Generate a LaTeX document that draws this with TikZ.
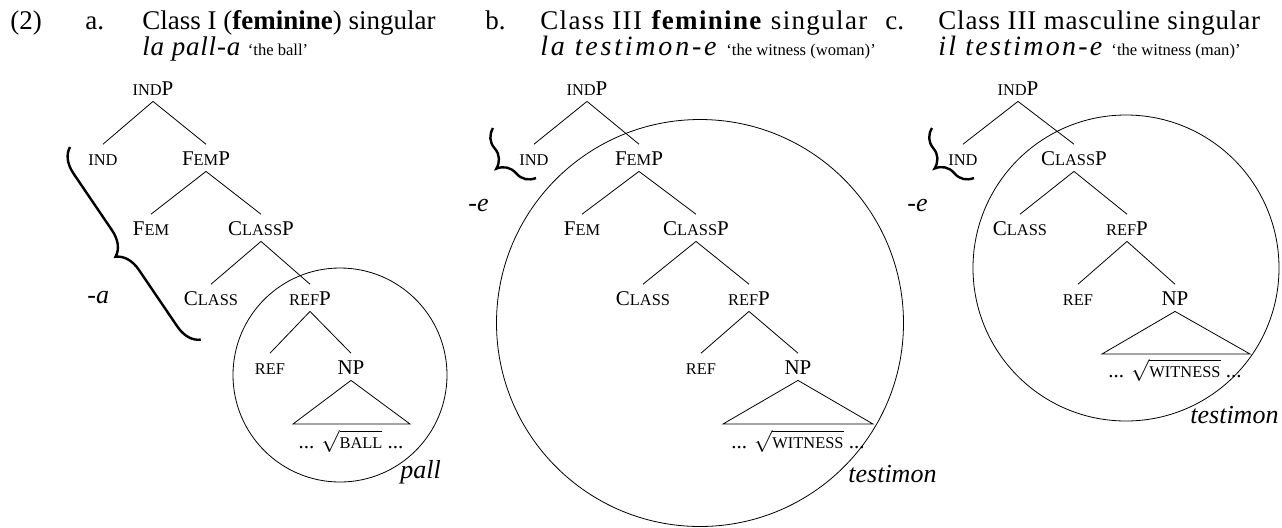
\documentclass[tikz,border=0pt]{standalone}
\usepackage{fontspec}
\setmainfont{Liberation Serif}
\usetikzlibrary{decorations.pathreplacing}

\newcommand{\sml}[1]{{\fontsize{8.2}{9}\selectfont #1}}
\newcommand{\gls}[1]{{\fontsize{8.3}{10}\selectfont #1}}
\newcommand{\wide}[2]{{\addfontfeature{LetterSpace=#1}#2}}

\tikzset{
  hd/.style={inner sep=0pt, anchor=base west, font=\fontsize{#1}{15}\selectfont},
  hd/.default=13,
  cat/.style={inner sep=3pt, text height=7.2pt, text depth=0pt, anchor=base,
    font=\fontsize{10.5}{12}\selectfont},
  leaf/.style={inner sep=0pt, anchor=base, font=\fontsize{10.5}{12}\selectfont},
  curly/.style={decorate, decoration={brace, mirror, amplitude=12pt}, line width=1.2pt},
}

\begin{document}
\begin{tikzpicture}[x=0.5pt,y=-0.5pt]
  \useasboundingbox (0,0) rectangle (1282,527);
  % headings
  \node [hd=13.5] (num) at (10,29) {(2)};
  \node [hd=13.5] (la) at (85,29) {a.};
  \node [hd=13.5] (ta) at (142,29) {Class I (\textbf{feminine}) singular};
  \node [hd=13.5] (ga) at (142,55) {\wide{3}{\textit{la pall-a}} \gls{`the ball'}};
  \node [hd=13.5] (lb) at (485,29) {b.};
  \node [hd=13.5] (tb) at (540,29) {\wide{5}{Class III \textbf{feminine} singular}};
  \node [hd=14] (gb) at (540,55) {\wide{10}{\textit{la testimon-e}} \gls{`the witness (woman)'}};
  \node [hd=13.5] (lc) at (885,29) {c.};
  \node [hd=13.5] (tc) at (938,29) {\wide{3}{Class III masculine singular}};
  \node [hd=14] (gc) at (938,55) {\wide{8}{\textit{il testimon-e}} \gls{`the witness (man)'}};

  % tree a
  \node [cat] (a0) at (153,95) {\sml{IND}P};
  \node [cat] (a1) at (103,165) {\sml{IND}};
  \node [cat] (a2) at (206,165) {F\sml{EM}P};
  \node [cat] (a3) at (151,235) {F\sml{EM}};
  \node [cat] (a4) at (261,235) {C\sml{LASS}P};
  \node [cat] (a5) at (211,305) {C\sml{LASS}};
  \node [cat] (a6) at (310,305) {\sml{REF}P};
  \node [cat] (a7) at (270,374) {\sml{REF}};
  \node [cat] (a8) at (351,374) {NP};
  \coordinate (a8l) at (293,424);
  \coordinate (a8r) at (410,424);
  \node [leaf] (a9) at (351,448) {... $\sqrt{\mbox{\sml{BALL}}}$ ...};
  \draw (a0.south) -- (a1.north) (a0.south) -- (a2.north);
  \draw (a2.south) -- (a3.north) (a2.south) -- (a4.north);
  \draw (a4.south) -- (a5.north) (a4.south) -- (a6.north);
  \draw (a6.south) -- (a7.north) (a6.south) -- (a8.north);
  \draw (a8.south) -- (a8l) -- (a8r) -- cycle;
  \draw [curly] (70,147) -- (201,340);
  \node [hd] (sa) at (87,303) {\textit{-a}};
  \draw (340,375) circle [radius=53.5pt];
  \node [hd] (ra) at (400,478) {\textit{pall}};

  % tree b
  \node [cat] (b0) at (587,95) {\sml{IND}P};
  \node [cat] (b1) at (534,165) {\sml{IND}};
  \node [cat] (b2) at (639,165) {F\sml{EM}P};
  \node [cat] (b3) at (582,235) {F\sml{EM}};
  \node [cat] (b4) at (696,235) {C\sml{LASS}P};
  \node [cat] (b5) at (643,305) {C\sml{LASS}};
  \node [cat] (b6) at (749,305) {\sml{REF}P};
  \node [cat] (b7) at (701,374) {\sml{REF}};
  \node [cat] (b8) at (798,374) {NP};
  \coordinate (b8l) at (723,424);
  \coordinate (b8r) at (873,424);
  \node [leaf] (b9) at (798,448) {... $\sqrt{\mbox{\sml{WITNESS}}}$ ...};
  \draw (b0.south) -- (b1.north) (b0.south) -- (b2.north);
  \draw (b2.south) -- (b3.north) (b2.south) -- (b4.north);
  \draw (b4.south) -- (b5.north) (b4.south) -- (b6.north);
  \draw (b6.south) -- (b7.north) (b6.south) -- (b8.north);
  \draw (b8.south) -- (b8l) -- (b8r) -- cycle;
  \draw [curly] (493,128) -- (536,178);
  \node [hd] (sb) at (468,211) {\textit{-e}};
  \draw (700,323) circle [radius=101.75pt];
  \node [hd] (rb) at (848,482) {\textit{testimon}};

  % tree c
  \node [cat] (c0) at (1018,95) {\sml{IND}P};
  \node [cat] (c1) at (963,165) {\sml{IND}};
  \node [cat] (c2) at (1074,165) {C\sml{LASS}P};
  \node [cat] (c3) at (1020,235) {C\sml{LASS}};
  \node [cat] (c4) at (1127,235) {\sml{REF}P};
  \node [cat] (c5) at (1078,305) {\sml{REF}};
  \node [cat] (c6) at (1175,305) {NP};
  \coordinate (c6l) at (1102,354);
  \coordinate (c6r) at (1250,354);
  \node [leaf] (c7) at (1175,377) {... $\sqrt{\mbox{\sml{WITNESS}}}$ ...};
  \draw (c0.south) -- (c1.north) (c0.south) -- (c2.north);
  \draw (c2.south) -- (c3.north) (c2.south) -- (c4.north);
  \draw (c4.south) -- (c5.north) (c4.south) -- (c6.north);
  \draw (c6.south) -- (c6l) -- (c6r) -- cycle;
  \draw [curly] (932,128) -- (974,178);
  \node [hd] (sc) at (907,211) {\textit{-e}};
  \draw (1126,268) circle [radius=76.5pt];
  \node [hd] (rc) at (1190,423) {\textit{testimon}};
\end{tikzpicture}
\end{document}
